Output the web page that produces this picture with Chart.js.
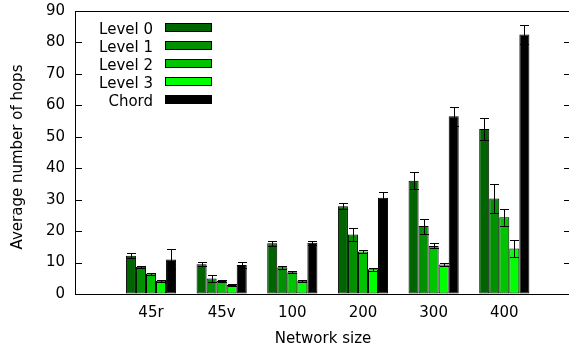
<!DOCTYPE html>
<html><head><meta charset="utf-8">
<script src="https://cdn.jsdelivr.net/npm/chart.js@4/dist/chart.umd.min.js"></script>
<style>html,body{margin:0;padding:0;background:#fff;overflow:hidden}#wrap{width:571px;height:350px}canvas{display:block}</style>
</head><body><div id="wrap"><canvas id="c" width="571" height="350"></canvas></div>
<script>
const categories = ['45r', '45v', '100', '200', '300', '400'];
const seriesNames = ['Level 0', 'Level 1', 'Level 2', 'Level 3', 'Chord'];
const level0 = [12.2, 9.5, 16.1, 27.9, 36.0, 52.5];
const level0Err = [0.8, 0.7, 0.8, 0.9, 2.7, 3.6];
const level1 = [8.7, 4.9, 8.5, 18.9, 21.6, 30.4];
const level1Err = [0.3, 1.0, 0.4, 2.0, 2.4, 4.7];
const level2 = [6.5, 4.1, 6.9, 13.5, 15.3, 24.4];
const level2Err = [0.3, 0.3, 0.3, 0.6, 0.8, 2.7];
const level3 = [4.2, 2.9, 4.2, 7.9, 9.4, 14.5];
const level3Err = [0.3, 0.2, 0.3, 0.5, 0.6, 2.6];
const chord = [11.0, 9.2, 16.3, 30.6, 56.5, 82.5];
const chordErr = [3.2, 0.9, 0.7, 1.7, 3.1, 3.0];
const yTickValues = [0, 10, 20, 30, 40, 50, 60, 70, 80, 90];
const xTitle = 'Network size';
const yTitle = 'Average number of hops';

const colors = ['#006400', '#009000', '#00c400', '#00ff00', '#000000'];
const values = [level0, level1, level2, level3, chord];
const errors = [level0Err, level1Err, level2Err, level3Err, chordErr];
const FONT = 'DejaVu Sans';
const FS = 15;

const datasets = seriesNames.map((name, s) => ({
  label: name,
  data: values[s].map((v, i) => ({x: i, y: v})),
  errors: errors[s],
  backgroundColor: colors[s],
  borderColor: '#000',
  borderWidth: 1,
  borderSkipped: false,
  categoryPercentage: 0.71,
  barPercentage: 1.0
}));

const framePlugin = {
  id: 'frame',
  afterDraw(chart) {
    const {ctx, chartArea: a, scales: {y}} = chart;
    ctx.save();
    ctx.fillStyle = '#000';
    chart.data.datasets.forEach((ds, di) => {
      const meta = chart.getDatasetMeta(di);
      meta.data.forEach((el, i) => {
        const v = ds.data[i].y, e = ds.errors[i];
        const x = Math.round(el.x);
        const t = Math.round(y.getPixelForValue(v + e));
        const b = Math.round(y.getPixelForValue(v - e));
        ctx.fillRect(x, t, 1, b - t + 1);
        ctx.fillRect(x - 4, t, 9, 1);
        ctx.fillRect(x - 4, b, 9, 1);
      });
    });
    const L = Math.round(a.left), T = Math.round(a.top), R = Math.round(a.right), B = Math.round(a.bottom);
    ctx.fillRect(L, T, R - L, 1);
    ctx.fillRect(L, T, 1, B - T + 1);
    ctx.fillRect(L, B, R - L, 1);
    ctx.fillRect(R - 1, T, 1, B - T + 1);
    yTickValues.forEach(v => {
      const py = Math.round(y.getPixelForValue(v));
      ctx.fillRect(L, py, 7, 1);
      ctx.fillRect(R - 7, py, 7, 1);
    });
    ctx.font = FS + 'px "' + FONT + '"';
    ctx.textAlign = 'right';
    ctx.textBaseline = 'alphabetic';
    seriesNames.forEach((name, s) => {
      const top = 23 + 18 * s;
      ctx.fillStyle = '#000';
      ctx.fillText(name, 153, top + 10.5);
      ctx.fillRect(165, top, 47, 9);
      ctx.fillStyle = colors[s];
      ctx.fillRect(166, top + 1, 45, 7);
    });
    ctx.fillStyle = '#000';
    ctx.translate(18, 157);
    ctx.rotate(-Math.PI / 2);
    ctx.textAlign = 'center';
    ctx.textBaseline = 'middle';
    ctx.fillText(yTitle, 0, 0);
    ctx.restore();
  }
};

new Chart(document.getElementById('c'), {
  type: 'bar',
  data: {datasets},
  options: {
    responsive: false,
    animation: false,
    layout: {padding: {top: 11, left: 0, right: 0, bottom: 0}},
    plugins: {legend: {display: false}, tooltip: {enabled: false}},
    scales: {
      x: {
        type: 'linear',
        offset: false,
        min: -1.0756,
        max: 5.944,
        grid: {display: false, drawTicks: false},
        border: {display: true, color: '#000', width: 1},
        afterBuildTicks(scale) { scale.ticks = categories.map((c, i) => ({value: i})); },
        afterFit(scale) { scale.height = 56; scale.paddingLeft = 0; scale.paddingRight = 0; },
        ticks: {
          padding: 10,
          color: '#000',
          font: {family: FONT, size: FS},
          callback: (v) => categories[v] !== undefined ? categories[v] : ''
        },
        title: {display: true, text: xTitle, color: '#000', font: {family: FONT, size: FS}, padding: {top: 0, bottom: 2}}
      },
      y: {
        min: 0, max: 90,
        grid: {
          display: true,
          drawTicks: false,
          drawOnChartArea: true,
          lineWidth: 1,
          color: (c) => (c.tick && c.tick.value === 90) ? '#000' : 'rgba(0,0,0,0)'
        },
        border: {display: true, color: '#000', width: 1},
        afterBuildTicks(scale) { scale.ticks = yTickValues.map(v => ({value: v})); },
        afterFit(scale) { scale.width = 75; scale.paddingTop = 0; scale.paddingBottom = 0; },
        ticks: {padding: 10, color: '#000', font: {family: FONT, size: FS}}
      }
    }
  },
  plugins: [framePlugin]
});
</script>
</body></html>
